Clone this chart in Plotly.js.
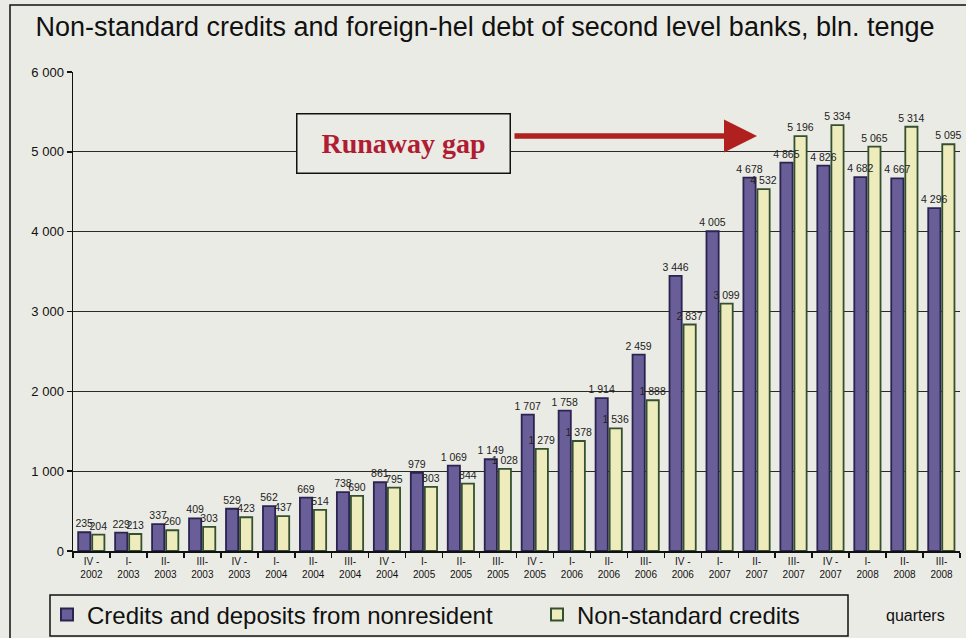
<!DOCTYPE html>
<html>
<head>
<meta charset="utf-8">
<script src="https://cdn.plot.ly/plotly-3.0.1.min.js"></script>
<style>
  html, body { margin: 0; padding: 0; background: #ebebe5; }
  #chart { width: 966px; height: 638px; }
</style>
</head>
<body>
<div id="chart"></div>
<script>
const quarters = ['IV -', 'I-', 'II-', 'III-', 'IV -', 'I-', 'II-', 'III-', 'IV -', 'I-', 'II-', 'III-',
                  'IV -', 'I-', 'II-', 'III-', 'IV -', 'I-', 'II-', 'III-', 'IV -', 'I-', 'II-', 'III-'];
const years = ['2002', '2003', '2003', '2003', '2003', '2004', '2004', '2004', '2004', '2005', '2005', '2005',
               '2005', '2006', '2006', '2006', '2006', '2007', '2007', '2007', '2007', '2008', '2008', '2008'];
const categories = quarters.map((q, i) => q + '<br>' + years[i]);

const nonresidentDebt = [235, 229, 337, 409, 529, 562, 669, 738, 861, 979, 1069, 1149,
                         1707, 1758, 1914, 2459, 3446, 4005, 4678, 4865, 4826, 4682, 4667, 4296];
const nonStandardCredits = [204, 213, 260, 303, 423, 437, 514, 690, 795, 803, 844, 1028,
                            1279, 1378, 1536, 1888, 2837, 3099, 4532, 5196, 5334, 5065, 5314, 5095];

const seriesNames = ['Credits and deposits from nonresident', 'Non-standard credits'];
const yTicks = [0, 1000, 2000, 3000, 4000, 5000, 6000];

// pixel -> paper helpers (plot area: x 73..960, y 72..551)
const L = 73, R = 6, T = 72, B = 87, W = 966, H = 638;
const pw = W - L - R, ph = H - T - B;
const px = x => (x - L) / pw;
const py = y => (H - B - y) / ph;

const labelFont = { family: 'Liberation Sans Narrow, Arial Narrow, Arial, sans-serif', size: 10.5, color: '#222' };
const legendFont = { family: 'Liberation Sans Narrow, Arial Narrow, Arial, sans-serif', size: 24, color: '#111' };

const purpleGeom = { offset: -0.36, width: 0.33 };
const yellowGeom = { offset: 0.02, width: 0.33 };

const barTrace = (name, values, geom, fill, edge, legendId) => Object.assign({
  type: 'bar', name: name, x: categories, y: values, legend: legendId,
  marker: { color: fill, line: { color: edge, width: 1.8 } },
  hoverinfo: 'skip'
}, geom);

// transparent copies drawn last, so every value label sits on top of all bars
const labelTrace = (values, geom) => Object.assign({
  type: 'bar', x: categories, y: values, showlegend: false,
  marker: { color: 'rgba(0,0,0,0)', line: { width: 0 } },
  texttemplate: '%{y:,d}', textposition: 'outside', cliponaxis: false, constraintext: 'none',
  textfont: labelFont, outsidetextfont: labelFont,
  hoverinfo: 'skip'
}, geom);

const traces = [
  barTrace(seriesNames[0], nonresidentDebt, purpleGeom, '#6a5e98', '#2a2450', 'legend'),
  barTrace(seriesNames[1], nonStandardCredits, yellowGeom, '#eeecbd', '#34502e', 'legend2'),
  labelTrace(nonresidentDebt, purpleGeom),
  labelTrace(nonStandardCredits, yellowGeom)
];

const legendBase = {
  orientation: 'h', xref: 'container', yref: 'container',
  xanchor: 'left', yanchor: 'middle',
  bgcolor: 'rgba(0,0,0,0)', borderwidth: 0,
  font: legendFont, itemsizing: 'constant'
};

const layout = {
  width: W, height: H,
  margin: { l: L, r: R, t: T, b: B, autoexpand: false },
  paper_bgcolor: '#ebebe5',
  plot_bgcolor: '#ebebe5',
  separators: '. ',
  barmode: 'overlay',
  showlegend: true,
  font: { family: 'Liberation Sans, Arial, sans-serif', color: '#111' },
  title: {
    text: 'Non-standard credits and foreign-hel debt of second level banks, bln. tenge',
    font: { family: 'Liberation Sans Narrow, Arial Narrow, Arial, sans-serif', size: 27, color: '#111' },
    x: 485 / W, xanchor: 'center', xref: 'container',
    y: 1 - 27 / H, yanchor: 'middle', yref: 'container'
  },
  xaxis: {
    type: 'category',
    tickson: 'boundaries',
    ticks: 'outside', ticklen: 5, tickcolor: '#111', tickwidth: 1.5,
    showline: true, linecolor: '#111', linewidth: 1.5,
    showgrid: false,
    tickangle: 0,
    automargin: false,
    tickfont: { family: 'Liberation Sans Narrow, Arial Narrow, Arial, sans-serif', size: 10, color: '#111' }
  },
  yaxis: {
    range: [0, 6000],
    tickvals: yTicks,
    tickformat: ',d',
    ticks: 'outside', ticklen: 5, tickcolor: '#111', tickwidth: 1.5,
    showline: true, linecolor: '#111', linewidth: 1.5,
    showgrid: true, gridcolor: '#2a2a2a', gridwidth: 1.3,
    zeroline: false,
    automargin: false,
    tickfont: { family: 'Liberation Sans, Arial, sans-serif', size: 13, color: '#111' }
  },
  legend: Object.assign({}, legendBase, { x: 47 / W, y: 1 - 615 / H }),
  legend2: Object.assign({}, legendBase, { x: 537 / W, y: 1 - 615 / H }),
  annotations: [
    {
      xref: 'paper', yref: 'paper', x: px(403), y: py(143),
      text: '<b>Runaway gap</b>', showarrow: false,
      font: { family: 'Liberation Serif, DejaVu Serif, serif', size: 28, color: '#b01c32' },
      bgcolor: '#ebebe5', bordercolor: '#111', borderwidth: 1.5,
      width: 210, height: 56, xanchor: 'center', yanchor: 'middle'
    },
    {
      xref: 'paper', yref: 'paper', x: px(757), y: py(136),
      ax: -244, ay: 0, text: '', showarrow: true,
      arrowhead: 2, arrowsize: 1.2, arrowwidth: 5.5, arrowcolor: '#b0201e',
      standoff: 0
    },
    {
      xref: 'paper', yref: 'paper', x: px(915), y: py(615),
      text: 'quarters', showarrow: false,
      font: { family: 'Liberation Sans Narrow, Arial Narrow, Arial, sans-serif', size: 16, color: '#111' },
      xanchor: 'center', yanchor: 'middle'
    }
  ],
  shapes: [
    {
      type: 'rect', xref: 'paper', yref: 'paper', layer: 'below',
      x0: px(10), x1: px(975), y0: py(645), y1: py(5),
      line: { color: '#111', width: 1.5 }, fillcolor: 'rgba(0,0,0,0)'
    },
    {
      type: 'rect', xref: 'paper', yref: 'paper', layer: 'below',
      x0: px(50), x1: px(848), y0: py(636), y1: py(595),
      line: { color: '#111', width: 1.5 }, fillcolor: 'rgba(0,0,0,0)'
    }
  ]
};

Plotly.newPlot('chart', traces, layout, { displayModeBar: false, staticPlot: true });
</script>
</body>
</html>
